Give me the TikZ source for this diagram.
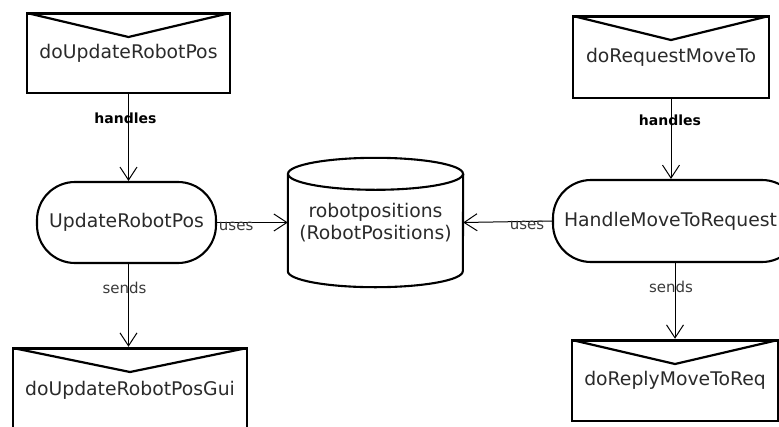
\documentclass[tikz,border=0pt]{standalone}
\usepackage{fontspec}
\setmainfont{DejaVu Sans}
\usetikzlibrary{arrows.meta}
\definecolor{ink}{HTML}{2A2A2A}
\definecolor{lbl}{HTML}{3A3A3A}
\begin{document}
\begin{tikzpicture}[x=1pt,y=-1pt,
  txt/.style={font=\fontsize{18.8}{22}\selectfont, text=ink},
  msgbox/.style={draw, line width=2.5pt, rectangle, inner sep=0pt, txt,
    path picture={
      \draw[line width=2.2pt]
        (path picture bounding box.north west)
        -- ([yshift=-24pt]path picture bounding box.north)
        -- (path picture bounding box.north east);
      \draw[line width=3pt]
        (path picture bounding box.north west)
        -- (path picture bounding box.north east);}},
  task/.style={draw, line width=2.1pt, rectangle, rounded corners=38pt,
    inner sep=0pt, txt},
  flow/.style={draw, line width=1pt,
    -{Straight Barb[length=13pt, width=17pt, line width=1pt]}},
  edgelbl/.style={font=\fontsize{15}{17}\selectfont, text=lbl, inner sep=0pt},
  handlbl/.style={font=\bfseries\fontsize{14}{17}\selectfont, text=black, inner sep=0pt}]

\clip (0,0) rectangle (779,426);

% messages
\node[msgbox, minimum width=203pt, minimum height=80pt] (inUpd) at (128.5,53) {doUpdateRobotPos};
\node[msgbox, minimum width=196pt, minimum height=82pt] (inReq) at (671,57) {doRequestMoveTo};
\node[msgbox, minimum width=234pt, minimum height=84pt] (outGui) at (130,390) {doUpdateRobotPosGui};
\node[msgbox, minimum width=206pt, minimum height=81pt] (outRep) at (675,380.5) {doReplyMoveToReq};

% tasks
\node[task, minimum width=179pt, minimum height=81pt] (tUpd) at (126.5,222.5) {UpdateRobotPos};
\node[task, minimum width=247pt, minimum height=82pt] (tReq) at (676.5,221) {\hspace*{-12pt}HandleMoveToRequest};

% data store
\node[txt, align=center, minimum width=175pt, minimum height=129pt, inner sep=0pt] (store)
  at (375.5,222.5) {robotpositions\\(RobotPositions)};
\draw[line width=2.1pt] ([yshift=-16pt]store.north) ellipse [x radius=87.5pt, y radius=16pt];
\draw[line width=2.1pt] ([yshift=-16pt]store.north west)
  -- ([yshift=16pt]store.south west)
  arc [start angle=180, end angle=360, x radius=87.5pt, y radius=16pt]
  -- ([yshift=-16pt]store.north east);

% connectors
\draw[flow] (inUpd.south) -- (tUpd.north -| inUpd.south)
  node[handlbl, pos=0.28, xshift=-3pt] {handles};
\draw[flow] (inReq.south) -- (tReq.north -| inReq.south)
  node[handlbl, pos=0.27, xshift=-1pt] {handles};
\draw[flow] (tUpd.east) -- (store.west)
  node[edgelbl, pos=0.27, yshift=-4pt] {uses};
\draw[flow] (tReq.west) -- (store.east)
  node[edgelbl, pos=0.28, yshift=-4pt] {uses};
\draw[flow] (tUpd.south -| inUpd.south) -- (outGui.north -| inUpd.south)
  node[edgelbl, pos=0.29, xshift=-4pt] {sends};
\draw[flow] (tReq.south -| outRep.north) -- (outRep.north)
  node[edgelbl, pos=0.32, xshift=-4pt] {sends};
\end{tikzpicture}
\end{document}
